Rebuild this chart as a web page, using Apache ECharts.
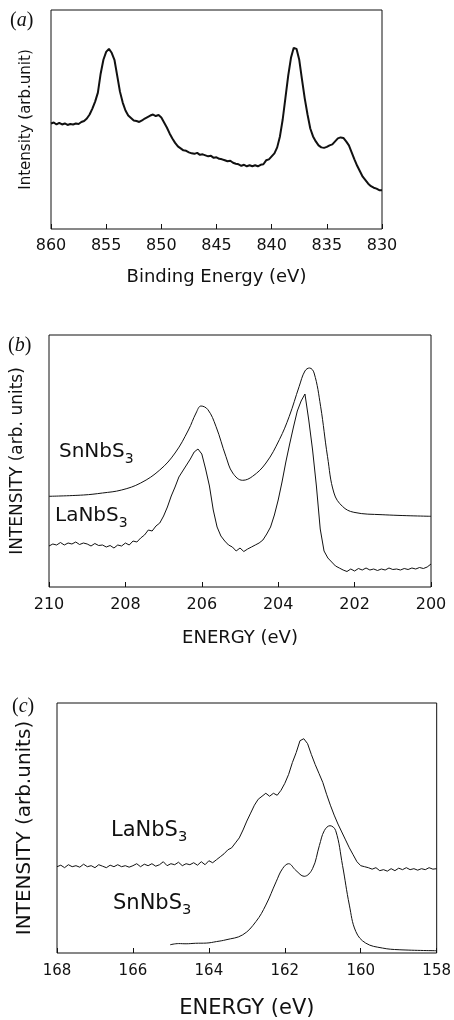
<!DOCTYPE html>
<html>
<head>
<meta charset="utf-8">
<title>XPS spectra</title>
<script src="https://cdn.jsdelivr.net/npm/echarts@6/dist/echarts.min.js"></script>
<style>
  html, body { margin: 0; padding: 0; background: #fff; }
  #chart { width: 454px; height: 1020px; }
</style>
</head>
<body>
<div id="chart"></div>
<script>
// panel (a): binding energy (eV), intensity (arb.unit)
var aTicks = [860, 855, 850, 845, 840, 835, 830];
var aSpectrum = [
  [860, 106], [859.75, 107], [859.5, 105], [859.25, 106.5], [859, 105], [858.75, 106], [858.5, 104.5],
  [858.25, 105.5], [858, 105], [857.75, 106], [857.5, 105.5], [857.25, 107.5], [857, 108.5], [856.75, 111],
  [856.5, 115], [856.25, 121], [856, 128], [855.75, 137], [855.5, 156], [855.25, 170], [855, 178],
  [854.75, 181], [854.5, 177], [854.25, 170], [854, 154], [853.75, 138], [853.5, 127], [853.25, 119],
  [853, 114], [852.75, 111.5], [852.5, 109], [852.25, 108.5], [852, 107.5], [851.75, 109], [851.5, 111],
  [851.25, 112.5], [851, 114], [850.75, 115], [850.5, 113.5], [850.25, 114.5], [850, 112], [849.75, 107],
  [849.5, 102], [849.25, 96], [849, 91], [848.75, 86.5], [848.5, 83], [848.25, 81], [848, 79],
  [847.75, 78.5], [847.5, 77], [847.25, 76], [847, 75.5], [846.75, 76.5], [846.5, 74.5], [846.25, 75],
  [846, 74], [845.75, 73], [845.5, 73.5], [845.25, 71.5], [845, 72], [844.75, 70.5], [844.5, 70],
  [844.25, 69], [844, 68], [843.75, 68.5], [843.5, 66.5], [843.25, 65.5], [843, 65], [842.75, 63.5],
  [842.5, 64.5], [842.25, 63], [842, 64], [841.75, 63], [841.5, 64], [841.25, 63], [841, 64.5],
  [840.75, 65], [840.5, 69], [840.25, 70], [840, 73], [839.75, 76], [839.5, 82], [839.25, 93],
  [839, 110], [838.75, 132], [838.5, 154], [838.25, 172], [838, 182], [837.75, 181], [837.5, 170],
  [837.25, 150], [837, 131], [836.75, 115], [836.5, 101], [836.25, 93], [836, 88], [835.75, 84],
  [835.5, 82], [835.25, 81.5], [835, 82.5], [834.75, 84], [834.5, 85], [834.25, 88], [834, 91],
  [833.75, 92], [833.5, 91.5], [833.25, 88], [833, 84], [832.75, 77], [832.5, 70], [832.25, 63.5],
  [832, 58], [831.75, 52.5], [831.5, 49], [831.25, 45.5], [831, 43], [830.75, 41.5], [830.5, 40.5],
  [830.25, 39], [830, 39]
];

// panel (b): Nb 3d region
var bTicks = [210, 208, 206, 204, 202, 200];
var bSnNbS3 = [
  [210, 90.7], [209.1, 92], [208.6, 94], [208.1, 97], [207.6, 104], [207.1, 117], [206.7, 134],
  [206.35, 157], [206.15, 174], [206.02, 181], [205.84, 177.3], [205.63, 160.7], [205.37, 130.7],
  [205.19, 114], [204.93, 106.7], [204.67, 110.7], [204.32, 124], [203.97, 147.3], [203.71, 170.7],
  [203.45, 200.7], [203.3, 216], [203.18, 219], [203.06, 214], [202.89, 180.7], [202.71, 130.7],
  [202.54, 94], [202.32, 80.7], [202.02, 74.7], [201.28, 72.3], [200, 70.7]
];
var bLaNbS3 = [
  [210.0, 41], [209.9, 43], [209.8, 42], [209.7, 44.5], [209.6, 42], [209.5, 44], [209.4, 43],
  [209.3, 45], [209.2, 42.5], [209.1, 44], [209.0, 43], [208.9, 41], [208.8, 43.5], [208.7, 41.5],
  [208.6, 42], [208.5, 40], [208.4, 41.5], [208.3, 39], [208.2, 42], [208.1, 41], [208.0, 44],
  [207.9, 42], [207.8, 46], [207.7, 45], [207.6, 49], [207.5, 52], [207.4, 57], [207.3, 56],
  [207.2, 61], [207.1, 64], [207.0, 71], [206.9, 80], [206.8, 91], [206.7, 100], [206.6, 110],
  [206.5, 116], [206.4, 122], [206.3, 128], [206.2, 135], [206.1, 138], [206.0, 133], [205.9, 118],
  [205.8, 101], [205.7, 77], [205.6, 60], [205.5, 51], [205.4, 46], [205.3, 42], [205.2, 40],
  [205.1, 36], [205.0, 39], [204.9, 35.5], [204.8, 38], [204.7, 40], [204.6, 42], [204.5, 44],
  [204.4, 47], [204.3, 53], [204.2, 60], [204.1, 72], [204.0, 87], [203.9, 105], [203.8, 125],
  [203.7, 143], [203.6, 160], [203.5, 176], [203.4, 186], [203.3, 193], [203.2, 167], [203.1, 137],
  [203.0, 101], [202.9, 58], [202.8, 36], [202.7, 29], [202.6, 25], [202.5, 21], [202.4, 19],
  [202.3, 17], [202.2, 15.5], [202.1, 18], [202.0, 16], [201.9, 18.5], [201.8, 17], [201.7, 19],
  [201.6, 17], [201.5, 18], [201.4, 16.5], [201.3, 18], [201.2, 17], [201.1, 19], [201.0, 17.5],
  [200.9, 18], [200.8, 17], [200.7, 18.5], [200.6, 17.5], [200.5, 19], [200.4, 18], [200.3, 19.5],
  [200.2, 18.5], [200.1, 20], [200.0, 23]
];

// panel (c): S 2p region
var cTicks = [168, 166, 164, 162, 160, 158];
var cLaNbS3 = [
  [168.0, 87], [167.9, 88.5], [167.8, 86], [167.7, 89], [167.6, 87], [167.5, 88], [167.4, 86.5],
  [167.3, 89.5], [167.2, 87], [167.1, 88], [167.0, 86], [166.9, 89], [166.8, 87.5], [166.7, 86],
  [166.6, 88.5], [166.5, 87], [166.4, 89], [166.3, 87], [166.2, 88], [166.1, 86.5], [166.0, 88],
  [165.9, 90], [165.8, 87], [165.7, 89.5], [165.6, 88], [165.5, 90], [165.4, 87.5], [165.3, 89],
  [165.2, 92], [165.1, 88], [165.0, 90], [164.9, 89], [164.8, 91.5], [164.7, 88], [164.6, 90],
  [164.5, 89], [164.4, 91], [164.3, 88.5], [164.2, 92], [164.1, 89], [164.0, 93], [163.9, 91],
  [163.8, 94], [163.7, 97], [163.6, 100], [163.5, 104], [163.4, 106], [163.3, 111], [163.2, 116],
  [163.1, 124], [163.0, 133], [162.9, 141], [162.8, 149], [162.7, 155], [162.6, 158], [162.5, 161],
  [162.4, 158], [162.3, 161], [162.2, 159], [162.1, 164], [162.0, 171], [161.9, 180], [161.8, 192],
  [161.7, 202], [161.6, 214], [161.5, 216], [161.4, 211], [161.3, 200], [161.2, 190], [161.1, 181],
  [161.0, 172], [160.9, 160], [160.8, 149], [160.7, 139], [160.6, 130], [160.5, 122], [160.4, 114],
  [160.3, 106], [160.2, 99], [160.1, 92], [160.0, 88], [159.9, 87], [159.8, 86], [159.7, 84.5],
  [159.6, 86], [159.5, 83], [159.4, 84], [159.3, 82.5], [159.2, 85], [159.1, 83], [159.0, 85.5],
  [158.9, 84], [158.8, 86], [158.7, 84], [158.6, 85], [158.5, 83.5], [158.4, 85], [158.3, 84],
  [158.2, 86], [158.1, 84.5], [158.0, 85]
];
var cSnNbS3 = [
  [165.02, 8.3], [164.8, 9.5], [164.6, 9.3], [164.35, 9.8], [164.07, 10], [163.8, 11.5], [163.55, 13.3],
  [163.11, 18.3], [162.76, 31.7], [162.5, 48.3], [162.23, 71.7], [162.06, 85], [161.9, 90],
  [161.71, 83.3], [161.49, 77.3], [161.27, 85], [161.09, 108.3], [160.96, 123.3], [160.81, 128.3],
  [160.66, 123.3], [160.48, 88.3], [160.3, 48.3], [160.13, 21.7], [159.87, 10], [159.43, 5],
  [158.99, 3.3], [158, 2.3]
];

var ink = '#111';
var tickFont = 'DejaVu Sans';

function makeX(idx, ticks, fontSize, name, nameSize, gap, labelMargin) {
  return {
    type: 'value',
    gridIndex: idx,
    inverse: true,
    min: ticks[ticks.length - 1],
    max: ticks[0],
    interval: ticks[0] - ticks[1],
    axisLine: { show: false },
    axisTick: { show: true, inside: true, length: 5, lineStyle: { color: ink } },
    splitLine: { show: false },
    axisLabel: { color: ink, fontFamily: tickFont, fontSize: fontSize, margin: labelMargin },
    name: name,
    nameLocation: 'middle',
    nameGap: gap,
    nameTextStyle: { color: ink, fontFamily: tickFont, fontSize: nameSize }
  };
}

function makeY(idx, top, name, nameSize, gap) {
  return {
    type: 'value',
    gridIndex: idx,
    min: 0,
    max: top,
    axisLine: { show: false },
    axisTick: { show: false },
    axisLabel: { show: false },
    splitLine: { show: false },
    name: name,
    nameLocation: 'middle',
    nameGap: gap,
    nameTextStyle: { color: ink, fontFamily: tickFont, fontSize: nameSize }
  };
}

function line(idx, data, width, smooth) {
  return {
    type: 'line',
    xAxisIndex: idx,
    yAxisIndex: idx,
    data: data,
    showSymbol: false,
    smooth: smooth,
    lineStyle: { color: ink, width: width },
    animation: false
  };
}

function compound(x, y, main, fontSize) {
  return {
    type: 'text',
    left: x,
    top: y,
    style: {
      text: '{m|' + main + '}{s|3}',
      rich: {
        m: { fontFamily: tickFont, fontSize: fontSize, lineHeight: fontSize + 8, verticalAlign: 'middle', fill: ink },
        s: { fontFamily: tickFont, fontSize: fontSize * 0.7, lineHeight: fontSize + 8, verticalAlign: 'bottom', fill: ink }
      }
    }
  };
}

function panelLabel(x, y, letter) {
  return {
    type: 'text',
    left: x,
    top: y,
    style: {
      text: '{p|(}{i|' + letter + '}{p|)}',
      rich: {
        p: { fontFamily: 'Liberation Serif', fontSize: 20, fill: ink },
        i: { fontFamily: 'Liberation Serif', fontStyle: 'italic', fontSize: 20, fill: ink }
      }
    }
  };
}

var chart = echarts.init(document.getElementById('chart'));
var option = {
  backgroundColor: '#fff',
  animation: false,
  grid: [
    { left: 51, top: 10, width: 331, height: 219, show: true, borderColor: ink, borderWidth: 1 },
    { left: 49, top: 335, width: 382, height: 252, show: true, borderColor: ink, borderWidth: 1 },
    { left: 57, top: 703, width: 381, height: 251, show: true, borderColor: ink, borderWidth: 1 }
  ],
  xAxis: [
    makeX(0, aTicks, 16, 'Binding Energy (eV)', 18, 39, 9),
    makeX(1, bTicks, 16, 'ENERGY (eV)', 18, 42, 10),
    makeX(2, cTicks, 15, 'ENERGY (eV)', 21, 45, 11)
  ],
  yAxis: [
    makeY(0, 220, 'Intensity (arb.unit)', 15, 17),
    makeY(1, 252, 'INTENSITY (arb. units)', 17, 23),
    makeY(2, 252, 'INTENSITY (arb.units)', 20, 22)
  ],
  series: [
    line(0, aSpectrum, 2, false),
    line(1, bSnNbS3, 1, 0.4),
    line(1, bLaNbS3, 1, false),
    line(2, cLaNbS3, 1, false),
    line(2, cSnNbS3, 1, 0.4)
  ],
  graphic: [
    panelLabel(10, 11, 'a'),
    panelLabel(8, 336, 'b'),
    panelLabel(12, 697, 'c'),
    compound(59, 442, 'SnNbS', 20),
    compound(55, 506, 'LaNbS', 20),
    compound(111, 820, 'LaNbS', 21),
    compound(113, 893, 'SnNbS', 21)
  ]
};
option && chart.setOption(option);
</script>
</body>
</html>
